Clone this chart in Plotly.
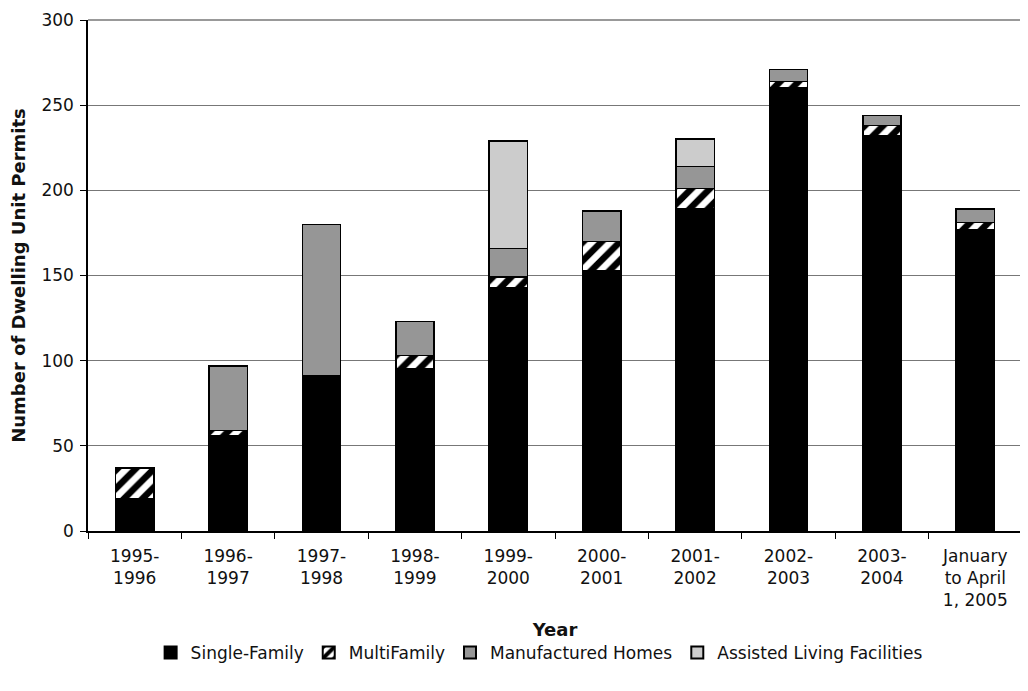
import plotly.graph_objects as go

categories = ["1995-<br>1996", "1996-<br>1997", "1997-<br>1998", "1998-<br>1999", "1999-<br>2000",
              "2000-<br>2001", "2001-<br>2002", "2002-<br>2003", "2003-<br>2004", "January<br>to April<br>1, 2005"]
single_family = [19, 56, 91, 95, 143, 153, 189, 260, 232, 177]
multi_family = [18, 3, 0, 8, 6, 17, 12, 4, 6, 4]
manufactured = [0, 38, 89, 20, 17, 18, 13, 7, 6, 8]
assisted = [0, 0, 0, 0, 63, 0, 16, 0, 0, 0]

font = "DejaVu Sans, Verdana, sans-serif"
line = dict(color="black", width=1.5)

fig = go.Figure()
fig.add_bar(x=categories, y=single_family, name="Single-Family",
            marker=dict(color="black", line=line))
fig.add_bar(x=categories, y=multi_family, name="MultiFamily",
            marker=dict(color="white", line=line,
                        pattern=dict(shape="/", fgcolor="black", bgcolor="white", fgopacity=1,
                                     fillmode="replace", size=13, solidity=0.5)))
fig.add_bar(x=categories, y=manufactured, name="Manufactured Homes",
            marker=dict(color="#969696", line=line))
fig.add_bar(x=categories, y=assisted, name="Assisted Living Facilities",
            marker=dict(color="#cccccc", line=line))

fig.update_layout(
    barmode="stack",
    bargap=0.59,
    width=1020, height=683,
    margin=dict(l=80, r=6, t=12, b=160),
    plot_bgcolor="white", paper_bgcolor="white",
    font=dict(family=font, size=17, color="#111111"),
    legend=dict(orientation="h", x=0.483, xanchor="center", y=-0.2035, yanchor="top",
                font=dict(size=17), traceorder="normal", itemwidth=30,
                itemsizing="constant", tracegroupgap=0),
    showlegend=True,
)
fig.update_xaxes(
    title=dict(text="<b>Year</b>", font=dict(size=18), standoff=14),
    showline=True, linecolor="black", linewidth=1.5,
    ticks="outside", tickson="boundaries", ticklen=6, tickcolor="black",
    ticklabelstandoff=9,
    mirror=False, automargin=False,
)
fig.update_yaxes(
    title=dict(text="<b>Number of Dwelling Unit Permits</b>", font=dict(size=18), standoff=12),
    range=[0, 300], dtick=50, tick0=0,
    showgrid=True, gridcolor="#777777", gridwidth=1,
    showline=True, linecolor="black", linewidth=1.5,
    ticks="outside", ticklen=6, tickcolor="black", ticklabelstandoff=3,
    zeroline=False, automargin=False,
)
# gray border on top and right of the plot area
fig.add_shape(type="line", xref="paper", yref="paper", x0=0, x1=1, y0=1, y1=1,
              line=dict(color="#999999", width=2))
fig.add_shape(type="line", xref="paper", yref="paper", x0=1, x1=1, y0=0, y1=1,
              line=dict(color="#999999", width=2))

fig.write_html("out.html")
